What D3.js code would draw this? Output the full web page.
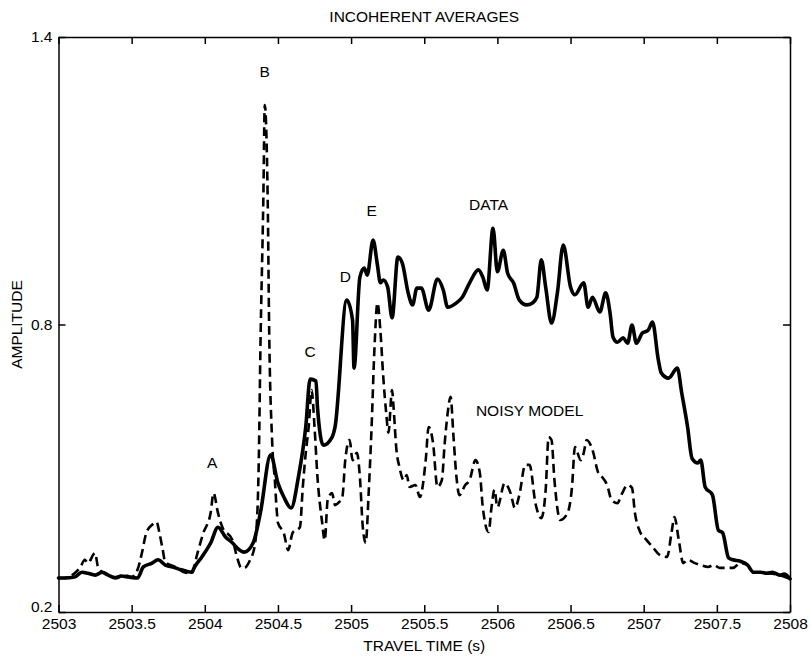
<!DOCTYPE html>
<html>
<head>
<meta charset="utf-8">
<script src="https://cdn.jsdelivr.net/npm/d3@7"></script>
<style>
  html, body { margin: 0; padding: 0; background: #fff; }
  svg { display: block; }
  text { font-family: "Liberation Sans", Arial, Helvetica, sans-serif; fill: #000; }
</style>
</head>
<body>
<svg id="chart" width="811" height="658"></svg>
<script>
// ---- Data ----
const dataTime = [2503.00,2503.04,2503.11,2503.16,2503.20,2503.25,2503.30,2503.34,2503.39,2503.43,2503.48,2503.54,2503.58,2503.64,2503.68,2503.73,2503.78,2503.84,2503.91,2503.93,2503.98,2504.04,2504.09,2504.14,2504.19,2504.22,2504.27,2504.33,2504.38,2504.45,2504.50,2504.54,2504.59,2504.64,2504.69,2504.72,2504.76,2504.77,2504.81,2504.87,2504.89,2504.97,2505.01,2505.02,2505.06,2505.09,2505.11,2505.15,2505.18,2505.20,2505.22,2505.25,2505.28,2505.32,2505.35,2505.39,2505.42,2505.45,2505.48,2505.53,2505.59,2505.63,2505.66,2505.72,2505.76,2505.81,2505.87,2505.90,2505.93,2505.97,2506.00,2506.04,2506.07,2506.11,2506.15,2506.20,2506.24,2506.27,2506.30,2506.33,2506.37,2506.41,2506.45,2506.50,2506.53,2506.59,2506.62,2506.65,2506.70,2506.74,2506.77,2506.79,2506.82,2506.86,2506.89,2506.92,2506.95,2506.99,2507.03,2507.06,2507.10,2507.12,2507.17,2507.23,2507.26,2507.30,2507.33,2507.37,2507.39,2507.42,2507.47,2507.51,2507.54,2507.58,2507.61,2507.66,2507.71,2507.75,2507.80,2507.84,2507.88,2507.93,2507.96,2508.00];
const dataAmp  = [0.271,0.271,0.273,0.283,0.281,0.277,0.283,0.277,0.271,0.275,0.273,0.271,0.294,0.302,0.309,0.298,0.294,0.288,0.283,0.294,0.315,0.344,0.377,0.357,0.344,0.334,0.325,0.344,0.407,0.528,0.469,0.440,0.417,0.482,0.586,0.686,0.682,0.628,0.548,0.565,0.586,0.851,0.809,0.709,0.899,0.918,0.903,0.976,0.924,0.887,0.893,0.878,0.814,0.941,0.928,0.866,0.841,0.876,0.876,0.830,0.895,0.872,0.836,0.845,0.857,0.887,0.914,0.899,0.872,1.001,0.910,0.955,0.907,0.887,0.851,0.841,0.845,0.857,0.935,0.878,0.803,0.866,0.966,0.878,0.862,0.887,0.836,0.857,0.826,0.866,0.824,0.774,0.763,0.772,0.761,0.799,0.761,0.782,0.788,0.805,0.726,0.699,0.688,0.709,0.657,0.586,0.521,0.511,0.517,0.461,0.444,0.371,0.365,0.313,0.309,0.306,0.298,0.283,0.283,0.281,0.283,0.277,0.279,0.269];

const modelTime = [2503.00,2503.04,2503.11,2503.15,2503.18,2503.20,2503.25,2503.27,2503.32,2503.39,2503.45,2503.50,2503.54,2503.57,2503.60,2503.64,2503.67,2503.69,2503.71,2503.73,2503.80,2503.86,2503.91,2503.95,2503.99,2504.04,2504.06,2504.09,2504.12,2504.19,2504.22,2504.25,2504.27,2504.31,2504.34,2504.36,2504.37,2504.38,2504.40,2504.41,2504.43,2504.44,2504.46,2504.48,2504.49,2504.50,2504.54,2504.57,2504.60,2504.65,2504.67,2504.69,2504.71,2504.73,2504.75,2504.77,2504.80,2504.82,2504.84,2504.87,2504.89,2504.91,2504.94,2504.96,2504.99,2505.01,2505.04,2505.06,2505.08,2505.10,2505.12,2505.14,2505.16,2505.18,2505.20,2505.22,2505.24,2505.255,2505.28,2505.29,2505.31,2505.33,2505.36,2505.38,2505.40,2505.44,2505.47,2505.51,2505.53,2505.56,2505.59,2505.62,2505.64,2505.66,2505.68,2505.70,2505.72,2505.74,2505.78,2505.81,2505.85,2505.88,2505.90,2505.94,2505.96,2505.98,2506.00,2506.05,2506.09,2506.12,2506.15,2506.19,2506.22,2506.26,2506.30,2506.33,2506.35,2506.37,2506.39,2506.43,2506.48,2506.51,2506.53,2506.57,2506.59,2506.61,2506.65,2506.69,2506.72,2506.75,2506.78,2506.82,2506.85,2506.89,2506.92,2506.94,2506.97,2507.02,2507.06,2507.11,2507.16,2507.19,2507.21,2507.24,2507.27,2507.30,2507.35,2507.39,2507.44,2507.48,2507.52,2507.57,2507.61,2507.66,2507.71,2507.75,2507.84,2507.93,2508.00];
const modelAmp  = [0.271,0.271,0.281,0.294,0.309,0.302,0.323,0.294,0.279,0.273,0.277,0.273,0.288,0.323,0.365,0.382,0.388,0.365,0.334,0.304,0.294,0.283,0.281,0.323,0.365,0.407,0.448,0.407,0.377,0.350,0.315,0.292,0.292,0.309,0.336,0.413,0.532,0.747,1.060,1.258,1.060,0.788,0.559,0.469,0.419,0.386,0.365,0.329,0.365,0.377,0.461,0.532,0.586,0.663,0.586,0.482,0.392,0.350,0.434,0.448,0.423,0.427,0.440,0.517,0.559,0.517,0.532,0.482,0.377,0.344,0.448,0.586,0.753,0.845,0.788,0.690,0.615,0.574,0.663,0.628,0.538,0.503,0.475,0.486,0.461,0.465,0.440,0.517,0.586,0.553,0.461,0.475,0.553,0.615,0.649,0.565,0.482,0.444,0.465,0.475,0.517,0.490,0.419,0.367,0.419,0.455,0.419,0.469,0.448,0.417,0.444,0.507,0.507,0.427,0.396,0.455,0.565,0.559,0.475,0.392,0.407,0.461,0.544,0.517,0.532,0.559,0.538,0.490,0.480,0.465,0.434,0.427,0.446,0.465,0.459,0.407,0.371,0.350,0.336,0.319,0.315,0.365,0.398,0.350,0.302,0.309,0.302,0.298,0.294,0.298,0.292,0.292,0.292,0.302,0.298,0.283,0.281,0.277,0.269];

const xTicks = [2503,2503.5,2504,2504.5,2505,2505.5,2506,2506.5,2507,2507.5,2508];
const yTicks = [0.2,0.8,1.4];
const annotationText = ["A","B","C","D","E","DATA","NOISY MODEL"];
const annotationTime = [2504.05,2504.41,2504.72,2504.96,2505.14,2505.94,2506.22];
const annotationAmp  = [0.500,1.316,0.732,0.889,1.026,1.040,0.609];

const titleText = "INCOHERENT AVERAGES";
const xLabelText = "TRAVEL TIME (s)";
const yLabelText = "AMPLITUDE";

// ---- Layout ----
const W = 811, H = 658;
const margin = { left: 58.5, right: 21, top: 37, bottom: 46 };
const svg = d3.select("#chart");
const x = d3.scaleLinear().domain([2503, 2508]).range([margin.left, W - margin.right]);
const y = d3.scaleLinear().domain([0.2, 1.4]).range([H - margin.bottom, margin.top]);

const fontSize = 15.5;

// Curves
const line = d3.line().x(d => x(d[0])).y(d => y(d[1])).curve(d3.curveMonotoneX);
const dataPts = dataTime.map((t, i) => [t, dataAmp[i]]);
const modelPts = modelTime.map((t, i) => [t, modelAmp[i]]);

svg.append("path").datum(modelPts)
  .attr("d", line).attr("fill", "none").attr("stroke", "#000")
  .attr("stroke-width", 2.6).attr("stroke-dasharray", "9,5")
  .attr("stroke-linejoin", "round");

svg.append("path").datum(dataPts)
  .attr("d", line).attr("fill", "none").attr("stroke", "#000")
  .attr("stroke-width", 3.6).attr("stroke-linejoin", "round").attr("stroke-linecap", "round");

// Axes (ticks inward, box)
const tickLen = 7;
const xAxisB = d3.axisBottom(x).tickValues(xTicks).tickSizeInner(-tickLen).tickSizeOuter(0).tickPadding(6)
  .tickFormat(d => String(d));
const xAxisT = d3.axisTop(x).tickValues(xTicks).tickSizeInner(-tickLen).tickSizeOuter(0).tickFormat("");
const yAxisL = d3.axisLeft(y).tickValues(yTicks).tickSizeInner(-tickLen).tickSizeOuter(0).tickPadding(6)
  .tickFormat(d3.format(".1f"));
const yAxisR = d3.axisRight(y).tickValues(yTicks).tickSizeInner(-tickLen).tickSizeOuter(0).tickFormat("");

function styleAxis(g) {
  g.selectAll("path.domain").attr("stroke", "#000").attr("stroke-width", 1.5);
  g.selectAll(".tick line").attr("stroke", "#000").attr("stroke-width", 1.5);
  g.selectAll(".tick text").attr("font-size", fontSize)
    .attr("font-family", '"Liberation Sans", Arial, Helvetica, sans-serif').attr("fill", "#000");
}
svg.append("g").attr("transform", `translate(0,${H - margin.bottom})`).call(xAxisB).call(styleAxis);
svg.append("g").attr("transform", `translate(0,${margin.top})`).call(xAxisT).call(styleAxis);
const gL = svg.append("g").attr("transform", `translate(${margin.left},0)`).call(yAxisL).call(styleAxis);
// lift the bottom y label slightly so it clears the first x label
gL.selectAll(".tick text").filter(d => d === 0.2).attr("dy", "-0.05em");
svg.append("g").attr("transform", `translate(${W - margin.right},0)`).call(yAxisR).call(styleAxis);

// Title and axis labels
const cx = (margin.left + W - margin.right) / 2;
svg.append("text").attr("x", cx).attr("y", 22).attr("text-anchor", "middle")
  .attr("font-size", fontSize).text(titleText);
svg.append("text").attr("x", cx).attr("y", 651).attr("text-anchor", "middle")
  .attr("font-size", fontSize).text(xLabelText);
svg.append("text").attr("transform", `translate(22,${(margin.top + H - margin.bottom) / 2}) rotate(-90)`)
  .attr("text-anchor", "middle").attr("font-size", fontSize).text(yLabelText);

// Annotations
annotationText.forEach((s, i) => {
  svg.append("text").attr("x", x(annotationTime[i])).attr("y", y(annotationAmp[i]))
    .attr("text-anchor", "middle").attr("font-size", fontSize).text(s);
});
</script>
</body>
</html>
